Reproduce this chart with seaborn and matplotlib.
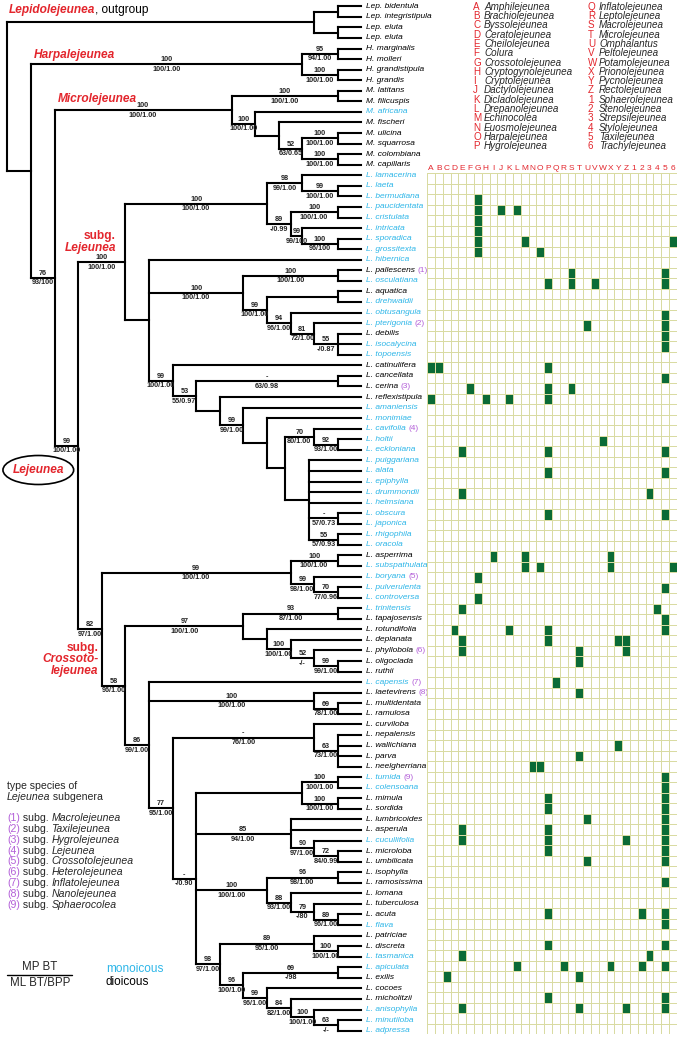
import numpy as np
import pandas as pd
import matplotlib
matplotlib.use("Agg")
import matplotlib.pyplot as plt
from matplotlib.collections import LineCollection
from matplotlib.patches import Ellipse
from matplotlib.colors import ListedColormap
import seaborn as sns

# ---- data -------------------------------------------------------------

def T(level, top, bottom, *kids):
    # internal node: cladogram depth, support above / below its branch, children
    return (level, top, bottom, kids)

subg_lejeunea = T(5, '100', '100/1.00',
    T(11, '100', '100/1.00',
        T(12.5, '98', '99/1.00', 'L. lamacerina',
            T(14, '99', '100/1.00', 'L. laeta', 'L. bermudiana')),
        T(12, '89', '-/0.99',
            T(14, '100', '100/1.00', 'L. paucidentata', 'L. cristulata'),
            T(12.5, '99', '99/100', 'L. intricata',
                T(14, '100', '96/100', 'L. sporadica', 'L. grossitexta')))),
    T(6, '', '',
        'L. hibernica',
        T(10, '100', '100/1.00',
            T(14, '100', '100/1.00', 'L. pallescens', 'L. osculatiana'),
            T(11, '99', '100/1.00',
                T(14, '', '', 'L. aquatica', 'L. drehwaldii'),
                T(12, '94', '96/1.00', 'L. obtusangula',
                    T(13, '81', '72/1.00', 'L. pterigonia',
                        T(14, '55', '-/0.87', 'L. debilis', 'L. isocalycina', 'L. topoensis'))))),
        T(7, '99', '100/1.00', 'L. catinulifera',
            T(8, '53', '55/0.97',
                T(14, '-', '63/0.98', 'L. cancellata', 'L. cerina'),
                T(9, '', '', 'L. reflexistipula',
                    T(10, '99', '99/1.00', 'L. amaniensis',
                        T(11, '', '', 'L. monimiae',
                            T(11.75, '', '',
                                T(13, '70', '80/1.00', 'L. cavifolia',
                                    T(14, '92', '93/1.00', 'L. holtii', 'L. eckloniana')),
                                T(12.8, '', '', 'L. puiggariana', 'L. alata', 'L. epiphylla',
                                  'L. drummondii', 'L. helmsiana',
                                  T(14, '-', '57/0.73', 'L. obscura', 'L. japonica'),
                                  T(14, '55', '57/0.93', 'L. rhigophila', 'L. oracola'))))))))))

subg_crossoto = T(4, '82', '97/1.00',
    T(12, '99', '100/1.00',
        T(14, '100', '100/1.00', 'L. asperrima', 'L. subspathulata'),
        T(13, '99', '98/1.00', 'L. boryana',
            T(14, '70', '77/0.96', 'L. pulverulenta', 'L. controversa'))),
    T(5, '58', '96/1.00',
        T(10, '97', '100/1.00',
            T(14, '93', '87/1.00', 'L. trinitensis', 'L. tapajosensis'),
            T(11, '', '', 'L. rotundifolia',
                T(12, '100', '100/1.00', 'L. deplanata',
                    T(13, '52', '-/-', 'L. phyllobola',
                        T(14, '99', '99/1.00', 'L. oligoclada', 'L. ruthii'))))),
        T(6, '86', '99/1.00',
            'L. capensis',
            T(13, '100', '100/1.00', 'L. laetevirens',
                T(14, '69', '78/1.00', 'L. multidentata', 'L. ramulosa')),
            T(7, '77', '95/1.00',
                T(13, '-', '76/1.00', 'L. curviloba',
                    T(14, '63', '73/1.00', 'L. nepalensis', 'L. wallichiana', 'L. parva',
                      'L. neelgherriana')),
                T(8, '-', '-/0.90',
                    T(12.5, '', '',
                        T(14, '100', '100/1.00', 'L. tumida', 'L. colensoana'),
                        T(14, '100', '100/1.00', 'L. mimula', 'L. sordida')),
                    T(12, '85', '94/1.00', 'L. lumbricoides', 'L. asperula',
                        T(13, '90', '97/1.00', 'L. cucullifolia',
                            T(14, '72', '84/0.99', 'L. microloba', 'L. umbilicata'))),
                    T(11, '100', '100/1.00',
                        T(14, '96', '98/1.00', 'L. isophylla', 'L. ramosissima'),
                        T(12, '88', '93/1.00', 'L. lomana',
                            T(13, '79', '-/80', 'L. tuberculosa',
                                T(14, '89', '96/1.00', 'L. acuta', 'L. flava')))),
                    T(9, '98', '97/1.00',
                        T(13, '89', '95/1.00', 'L. patriciae',
                            T(14, '100', '100/1.00', 'L. discreta', 'L. tasmanica')),
                        T(10, '96', '100/1.00',
                            T(14, '69', '-/98', 'L. apiculata', 'L. exilis'),
                            T(11, '99', '96/1.00', 'L. cocoes',
                                T(12, '84', '82/1.00', 'L. micholitzii',
                                    T(13, '100', '100/1.00', 'L. anisophylla',
                                        T(14, '63', '-/-', 'L. minutiloba', 'L. adpressa')))))))))))

tree = T(0, '', '',
    T(13, '', '',
        T(14, '', '', 'Lep. bidentula', 'Lep. integristipula'),
        T(14, '', '', 'Lep. eluta', 'Lep. eluta')),
    T(1, '', '',
        T(12.5, '100', '100/1.00',
            T(14, '95', '94/1.00', 'H. marginalis', 'H. molleri'),
            T(14, '100', '100/1.00', 'H. grandistipula', 'H. grandis')),
        T(2, '76', '93/100',
            T(9.5, '100', '100/1.00',
                T(14, '100', '100/1.00', 'M. latitans', 'M. filicuspis'),
                T(10.5, '100', '100/1.00', 'M. africana',
                    T(11.5, '', '', 'M. fischeri',
                        T(12.5, '52', '63/0.65',
                            T(14, '100', '100/1.00', 'M. ulicina', 'M. squarrosa'),
                            T(14, '100', '100/1.00', 'M. colombiana', 'M. capillaris'))))),
            T(3, '99', '100/1.00', subg_lejeunea, subg_crossoto))))

monoicous = {
    'M. africana', 'L. lamacerina', 'L. laeta', 'L. bermudiana', 'L. paucidentata',
    'L. cristulata', 'L. intricata', 'L. sporadica', 'L. grossitexta', 'L. hibernica',
    'L. osculatiana', 'L. drehwaldii', 'L. obtusangula', 'L. pterigonia', 'L. isocalycina',
    'L. topoensis', 'L. amaniensis', 'L. monimiae', 'L. cavifolia', 'L. holtii',
    'L. eckloniana', 'L. puiggariana', 'L. alata', 'L. epiphylla', 'L. drummondii',
    'L. helmsiana', 'L. obscura', 'L. japonica', 'L. rhigophila', 'L. oracola',
    'L. subspathulata', 'L. boryana', 'L. pulverulenta', 'L. controversa', 'L. trinitensis',
    'L. capensis', 'L. tumida', 'L. colensoana', 'L. cucullifolia', 'L. flava',
    'L. tasmanica', 'L. apiculata', 'L. anisophylla', 'L. minutiloba', 'L. adpressa',
}

type_species = {
    'L. pallescens': 1, 'L. pterigonia': 2, 'L. cerina': 3, 'L. cavifolia': 4,
    'L. boryana': 5, 'L. phyllobola': 6, 'L. capensis': 7, 'L. laetevirens': 8, 'L. tumida': 9,
}
subgenera = ['Macrolejeunea', 'Taxilejeunea', 'Hygrolejeunea', 'Lejeunea', 'Crossotolejeunea',
             'Heterolejeunea', 'Inflatolejeunea', 'Nanolejeunea', 'Sphaerocolea']

codes = list('ABCDEFGHIJKLMNOPQRSTUVWXYZ123456')
genera = ['Amphilejeunea', 'Brachiolejeunea', 'Byssolejeunea', 'Ceratolejeunea',
          'Cheilolejeunea', 'Colura', 'Crossotolejeunea', 'Cryptogynolejeunea',
          'Cryptolejeunea', 'Dactylolejeunea', 'Dicladolejeunea', 'Drepanolejeunea',
          'Echinocolea', 'Euosmolejeunea', 'Harpalejeunea', 'Hygrolejeunea',
          'Inflatolejeunea', 'Leptolejeunea', 'Macrolejeunea', 'Microlejeunea',
          'Omphalantus', 'Peltolejeunea', 'Potamolejeunea', 'Prionolejeunea',
          'Pycnolejeunea', 'Rectolejeunea', 'Sphaerolejeunea', 'Stenolejeunea',
          'Strepsilejeunea', 'Stylolejeunea', 'Taxilejeunea', 'Trachylejeunea']

# similar genera that each Lejeunea species has been placed in
cells = {
    'L. bermudiana': 'G', 'L. paucidentata': 'GJL', 'L. cristulata': 'G', 'L. intricata': 'G',
    'L. sporadica': 'GM6', 'L. grossitexta': 'GO', 'L. pallescens': 'S5',
    'L. osculatiana': 'PSV5', 'L. obtusangula': '5', 'L. pterigonia': 'U5', 'L. debilis': '5',
    'L. isocalycina': '5', 'L. catinulifera': 'ABP', 'L. cancellata': '5', 'L. cerina': 'FPS',
    'L. reflexistipula': 'AHKP', 'L. holtii': 'W', 'L. eckloniana': 'EP5', 'L. alata': 'P5',
    'L. drummondii': 'E3', 'L. obscura': 'P5', 'L. asperrima': 'IMX', 'L. subspathulata': 'MOX6',
    'L. boryana': 'G', 'L. pulverulenta': '5', 'L. controversa': 'G', 'L. trinitensis': 'E4',
    'L. tapajosensis': '5', 'L. rotundifolia': 'DKP5', 'L. deplanata': 'EPYZ',
    'L. phyllobola': 'ETZ', 'L. oligoclada': 'T', 'L. capensis': 'Q', 'L. laetevirens': 'T',
    'L. wallichiana': 'Y', 'L. parva': 'T', 'L. neelgherriana': 'NO', 'L. tumida': '5',
    'L. colensoana': '5', 'L. mimula': 'P5', 'L. sordida': 'P5', 'L. lumbricoides': 'U5',
    'L. asperula': 'EP5', 'L. cucullifolia': 'EPZ5', 'L. microloba': 'P5', 'L. umbilicata': 'U5',
    'L. ramosissima': '5', 'L. acuta': 'P25', 'L. flava': '5', 'L. discreta': 'P5',
    'L. tasmanica': 'E3', 'L. apiculata': 'LRX25', 'L. exilis': 'CT', 'L. micholitzii': 'P5',
    'L. anisophylla': 'ETZ5',
}

# ---- style ------------------------------------------------------------
RED = '#e3262d'
CYAN = '#2db6e8'
VIOLET = '#b35fd8'
GREEN = '#0b6b36'
GRID = '#d9dba2'

sns.set_theme(style='white')
plt.rcParams['font.family'] = ['Liberation Sans', 'DejaVu Sans']

W, H = 680, 1039
X0, STEP, TIP_X = 7.3, 23.6, 361.3
ROW0, DY = 6.3, 10.56

fig = plt.figure(figsize=(W / 100, H / 100), dpi=100)
ax = fig.add_axes([0, 0, 1, 1])
ax.set_xlim(0, W)
ax.set_ylim(H, 0)
ax.axis('off')

# ---- tree -------------------------------------------------------------
segs = []
rows = []
sup = dict(fontsize=5.2, fontweight='bold', ha='center', color='#222222')

def layout(n):
    if isinstance(n, str):
        rows.append(n)
        return TIP_X, ROW0 + DY * (len(rows) - 1), '', ''
    level, top, bottom, kids = n
    x = X0 + STEP * level
    pos = [layout(k) for k in kids]
    ys = [p[1] for p in pos]
    segs.append([(x, min(ys)), (x, max(ys))])
    for cx, cy, ctop, cbot in pos:
        segs.append([(x, cy), (cx, cy)])
        xm = (x + cx) / 2
        if ctop:
            ax.text(xm, cy - 1.0, ctop, va='bottom', **sup)
        if cbot:
            ax.text(xm, cy + 1.6, cbot, va='top', **sup)
    return x, (min(ys) + max(ys)) / 2, top, bottom

layout(tree)
ax.add_collection(LineCollection(segs, colors='black', linewidths=1.5, capstyle='projecting'))

# tip names
for i, name in enumerate(rows):
    y = ROW0 + DY * i
    t = ax.text(366, y, name, fontsize=6, style='italic', va='center',
                color=CYAN if name in monoicous else 'black')
    if name in type_species:
        ax.annotate(f'({type_species[name]})', xy=(1, 0.5), xycoords=t, xytext=(2, 0),
                    textcoords='offset points', va='center', fontsize=6, color=VIOLET)

# clade names
def chain(first, parts):
    prev = first
    for s, kw in parts:
        prev = ax.annotate(s, xy=(1, 0), xycoords=prev, xytext=(0, 0),
                           textcoords='offset points', va='bottom', **kw)
    return prev

big = dict(fontsize=8.6, fontweight='bold', style='italic', color=RED)
t = ax.text(9, 16.5, 'Lepidolejeunea', va='bottom', **big)
chain(t, [(', outgroup', dict(fontsize=8.6, color='black'))])
ax.text(34, 55, 'Harpalejeunea', va='center', **big)
ax.text(58, 99, 'Microlejeunea', va='center', **big)
ax.text(116, 236.5, 'subg.', ha='right', va='center', fontsize=8.6, fontweight='bold', color=RED)
ax.text(116, 248.5, 'Lejeunea', ha='right', va='center', **big)
ax.text(98.5, 647.5, 'subg.', ha='right', va='center', fontsize=8.6, fontweight='bold', color=RED)
ax.text(98.5, 659.5, 'Crossoto-', ha='right', va='center', **big)
ax.text(98.5, 671.2, 'lejeunea', ha='right', va='center', **big)
ax.add_patch(Ellipse((38.3, 470), 70.7, 29, fill=False, edgecolor='black', lw=1.2))
ax.text(38.3, 470, 'Lejeunea', ha='center', va='center', **big)

# ---- genus legend (top right) --------------------------------------------
for k, (c, g) in enumerate(zip(codes, genera)):
    col, r = divmod(k, 16)
    y = 6.7 + 9.3 * r
    lx = 473 + 115 * col
    ax.text(lx, y, c, fontsize=7.1, color=RED, va='center')
    ax.text(lx + 11, y, g, fontsize=7.1, style='italic', va='center')

# ---- type species legend (bottom left) -----------------------------------
lg = dict(fontsize=7.6)
ax.text(7, 786, 'type species of', va='center', **lg)
t = ax.text(7, 801.5, 'Lejeunea', va='bottom', style='italic', **lg)
chain(t, [(' subgenera', lg)])
for k, s in enumerate(subgenera):
    y = 823.3 + 10.8 * k
    t = ax.text(7, y, f'({k + 1})', va='bottom', color=VIOLET, **lg)
    chain(t, [(' subg. ', lg), (s, dict(style='italic', **lg))])

ax.text(40, 967.3, 'MP BT', ha='center', va='center', fontsize=8.3)
ax.plot([6.7, 71.7], [975, 975], color='black', lw=1)
ax.text(40, 982.5, 'ML BT/BPP', ha='center', va='center', fontsize=8.3)
ax.text(105.7, 969.3, 'monoicous', va='center', fontsize=8.5, color=CYAN)
ax.text(105.7, 982.3, 'dioicous', va='center', fontsize=8.5, color='black')

# ---- character matrix ---------------------------------------------------
mtaxa = rows[rows.index('L. lamacerina'):]
mat = pd.DataFrame(0, index=mtaxa, columns=codes)
for name, cs in cells.items():
    for c in cs:
        mat.loc[name, c] = 1

mx = fig.add_axes([427.3 / W, 1 - 1034.3 / H, 249.4 / W, 861 / H])
sns.heatmap(mat, ax=mx, cmap=ListedColormap(['white', GREEN]), vmin=0, vmax=1, cbar=False,
            linewidths=0.5, linecolor=GRID, xticklabels=codes, yticklabels=False)
mx.xaxis.tick_top()
mx.tick_params(axis='x', length=0, pad=0.8, labelsize=6, labelcolor=RED, rotation=0)
mx.set_xlabel('')
mx.set_ylabel('')

fig.savefig('out.png', dpi=100)
